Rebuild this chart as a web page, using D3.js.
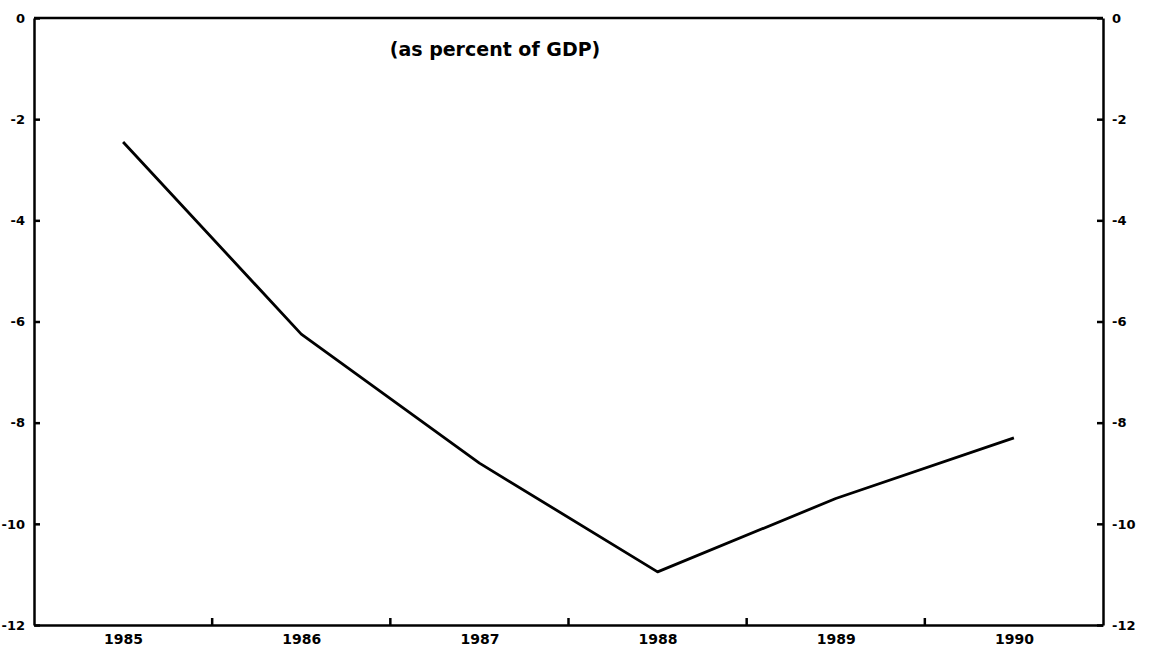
<!DOCTYPE html>
<html>
<head>
<meta charset="UTF-8">
<script src="https://cdn.jsdelivr.net/npm/d3@7"></script>
<style>
  body { margin: 0; background: #fff; }
  .axis path, .axis line { stroke: #000; stroke-width: 2.5px; }
  .axis text { font-family: "DejaVu Sans", sans-serif; font-weight: bold; font-size: 13px; fill: #000; }
  .xaxis text { font-size: 14px; }
  .line { fill: none; stroke: #000; stroke-width: 2.8px; stroke-linejoin: round; }
  .title { font-family: "DejaVu Sans", sans-serif; font-weight: bold; font-size: 19px; }
</style>
</head>
<body>
<svg id="chart" width="1150" height="650"></svg>
<script>
// data
var years = ["1985", "1986", "1987", "1988", "1989", "1990"];
var values = [-2.45, -6.25, -8.8, -10.95, -9.5, -8.3];
var yTicks = [0, -2, -4, -6, -8, -10, -12];
var yTickLabels = ["0", "-2", "-4", "-6", "-8", "-10", "-12"];

var margin = {top: 18, right: 47, bottom: 25, left: 34},
    width = 1150 - margin.left - margin.right,
    height = 650 - margin.top - margin.bottom;

var svg = d3.select("#chart");
var g = svg.append("g")
  .attr("transform", "translate(" + margin.left + "," + margin.top + ")");

var x = d3.scalePoint().domain(years).range([0, width]).padding(0.5);
var y = d3.scaleLinear().domain([-12, 0]).range([height, 0]);

// frame top
g.append("line")
  .attr("x1", 0).attr("x2", width).attr("y1", 0).attr("y2", 0)
  .attr("stroke", "#000").attr("stroke-width", 2.5);

// left and right axes, ticks pointing inward
var fmt = function(d) { return yTickLabels[yTicks.indexOf(d)]; };
g.append("g").attr("class", "axis")
  .call(d3.axisLeft(y).tickValues(yTicks).tickFormat(fmt).tickSizeInner(-6).tickSizeOuter(0).tickPadding(9));
g.append("g").attr("class", "axis")
  .attr("transform", "translate(" + width + ",0)")
  .call(d3.axisRight(y).tickValues(yTicks).tickFormat(fmt).tickSizeInner(-6).tickSizeOuter(0).tickPadding(9));

// bottom axis: year labels, separator ticks between years
var xAxis = g.append("g").attr("class", "axis xaxis")
  .attr("transform", "translate(0," + height + ")")
  .call(d3.axisBottom(x).tickSize(0).tickPadding(9));
xAxis.selectAll(".tick text").attr("dy", "0.71em");

var step = x.step();
var seps = years.slice(1).map(function(d) { return x(d) - step / 2; });
g.selectAll(".sep").data(seps).enter().append("line")
  .attr("x1", function(d) { return d; }).attr("x2", function(d) { return d; })
  .attr("y1", height).attr("y2", height - 7)
  .attr("stroke", "#000").attr("stroke-width", 2.5);

// series
var line = d3.line()
  .x(function(d, i) { return x(years[i]); })
  .y(function(d) { return y(d); });
g.append("path").datum(values).attr("class", "line").attr("d", line);

g.append("text").attr("class", "title")
  .attr("x", 461).attr("y", 38).attr("text-anchor", "middle")
  .text("(as percent of GDP)");
</script>
</body>
</html>
